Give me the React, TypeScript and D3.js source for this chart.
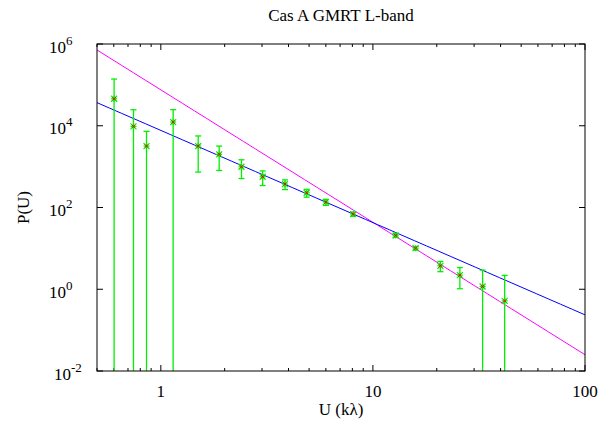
import React from "react";
import * as d3 from "d3";

const uValues = [0.602, 0.743, 0.856, 1.143, 1.5, 1.884, 2.4, 3.02, 3.85, 4.87, 6.0, 8.07, 12.8, 15.9, 20.8, 25.7, 32.9, 41.8];
const pValues = [45800, 9670, 3185, 12300, 3185, 1995, 991, 565, 374, 229, 135.5, 68.9, 20.7, 10.1, 3.74, 2.21, 1.17, 0.52];
const pErrors = [93000, 15000, 4100, 12500, 2450, 1190, 480, 220, 100, 50, 23, 8, 2, 1, 1.05, 1.18, 1.77, 1.66];

// power-law fits: log10 P = a + b log10 U
const magentaFit = { a: 4.878, b: -3.24 };
const blueFit = { a: 3.886, b: -2.256 };

const xTicksMajor = [1, 10, 100];
const yTickExponents = [-2, 0, 2, 4, 6];

const W = 613, H = 434;
const M = { left: 97, right: 585, top: 44, bottom: 371 };

export default function App() {
  const x = d3.scaleLog().domain([0.5, 100]).range([M.left, M.right]);
  const y = d3.scaleLog().domain([1e-2, 1e6]).range([M.bottom, M.top]);
  const font = "Liberation Serif, Times New Roman, Times, DejaVu Serif, serif";
  const fs = 17;
  const ts: React.CSSProperties = { fontFamily: font, fontSize: fs };

  const minorTicks: number[] = [];
  for (const dec of [0.1, 1, 10]) {
    for (let k = 2; k <= 9; k++) {
      const v = dec * k;
      if (v >= 0.5 && v <= 100) minorTicks.push(v);
    }
  }

  const fitLine = (fit: { a: number; b: number }) => {
    const samples = d3.range(0, 41).map((i) => Math.pow(10, Math.log10(0.5) + (i / 40) * (2 - Math.log10(0.5))));
    return d3
      .line<number>()
      .x((u) => x(u))
      .y((u) => y(Math.pow(10, fit.a + fit.b * Math.log10(u))))(samples) as string;
  };

  const green = "#00f000";

  return (
    <svg width={W} height={H} style={{ position: "absolute", left: 0, top: 0 }}>
      <rect width={W} height={H} fill="#fff" />
      <defs>
        <clipPath id="plot">
          <rect x={M.left} y={M.top} width={M.right - M.left} height={M.bottom - M.top} />
        </clipPath>
      </defs>
      <text x={(M.left + M.right) / 2} y={21} textAnchor="middle" style={ts}>
        Cas A GMRT L-band
      </text>

      {/* ticks */}
      {xTicksMajor.map((t) => (
        <g key={"xm" + t}>
          <line x1={x(t)} x2={x(t)} y1={M.bottom} y2={M.bottom - 6} stroke="#000" />
          <line x1={x(t)} x2={x(t)} y1={M.top} y2={M.top + 6} stroke="#000" />
          <text x={x(t)} y={M.bottom + 26} textAnchor="middle" style={ts}>
            {t}
          </text>
        </g>
      ))}
      {minorTicks.map((t) => (
        <g key={"xn" + t}>
          <line x1={x(t)} x2={x(t)} y1={M.bottom} y2={M.bottom - 3} stroke="#000" />
          <line x1={x(t)} x2={x(t)} y1={M.top} y2={M.top + 3} stroke="#000" />
        </g>
      ))}
      {yTickExponents.map((e) => {
        const yy = y(Math.pow(10, e));
        return (
          <g key={"y" + e}>
            <line x1={M.left} x2={M.left + 6} y1={yy} y2={yy} stroke="#000" />
            <line x1={M.right} x2={M.right - 6} y1={yy} y2={yy} stroke="#000" />
            <text x={e < 0 ? 54 : 49} y={yy + 8.5} textAnchor="start" style={ts}>
              10
              <tspan dy={-8} style={{ fontSize: 13 }}>{e < 0 ? "-" + String(-e) : String(e)}</tspan>
            </text>
          </g>
        );
      })}

      <g clipPath="url(#plot)">
        <path d={fitLine(magentaFit)} fill="none" stroke="#ff00ff" strokeWidth={1} />
        <path d={fitLine(blueFit)} fill="none" stroke="#0000ff" strokeWidth={1} />
        {uValues.map((u, i) => {
          const cx = x(u);
          const cy = y(pValues[i]);
          const hi = pValues[i] + pErrors[i];
          const lo = pValues[i] - pErrors[i];
          const yHi = y(hi);
          const yLo = lo > 1e-2 ? y(lo) : M.bottom + 2;
          return (
            <g key={"p" + i}>
              <line x1={cx} x2={cx} y1={yHi} y2={yLo} stroke={green} strokeWidth={1.3} />
              <line x1={cx - 3} x2={cx + 3} y1={yHi} y2={yHi} stroke={green} strokeWidth={1.3} />
              {lo > 1e-2 && <line x1={cx - 3} x2={cx + 3} y1={yLo} y2={yLo} stroke={green} strokeWidth={1.3} />}
              <g stroke={green} strokeWidth={1.2}>
                <line x1={cx - 3} x2={cx + 3} y1={cy} y2={cy} />
                <line x1={cx} x2={cx} y1={cy - 3} y2={cy + 3} />
                <line x1={cx - 3} x2={cx + 3} y1={cy - 3} y2={cy + 3} />
                <line x1={cx - 3} x2={cx + 3} y1={cy + 3} y2={cy - 3} />
              </g>
              <g stroke="#ff0000" strokeWidth={1}>
                <line x1={cx - 1.5} x2={cx + 1.5} y1={cy - 1.5} y2={cy + 1.5} />
                <line x1={cx - 1.5} x2={cx + 1.5} y1={cy + 1.5} y2={cy - 1.5} />
              </g>
            </g>
          );
        })}
      </g>

      <rect x={M.left} y={M.top} width={M.right - M.left} height={M.bottom - M.top} fill="none" stroke="#000" strokeWidth={1} />

      <text x={(M.left + M.right) / 2} y={415} textAnchor="middle" style={ts}>
        U (kλ)
      </text>
      <text transform={`translate(29,${(M.top + M.bottom) / 2}) rotate(-90)`} textAnchor="middle" style={ts}>
        P(U)
      </text>
    </svg>
  );
}
